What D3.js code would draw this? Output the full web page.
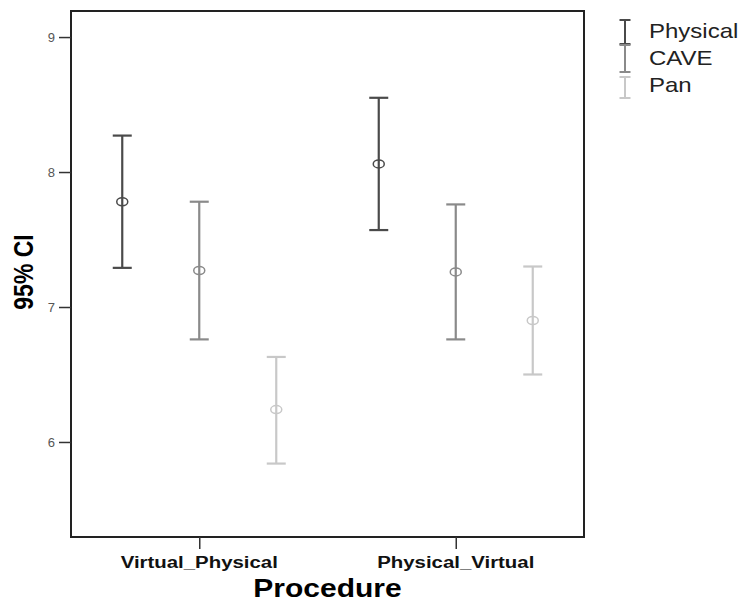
<!DOCTYPE html>
<html>
<head>
<meta charset="utf-8">
<script src="https://cdn.jsdelivr.net/npm/d3@7"></script>
<style>
  body { margin: 0; background: #fff; }
  svg { display: block; font-family: Arial, "Liberation Sans", sans-serif; }
</style>
</head>
<body>
<div id="chart"></div>
<script>
// data
const procedures = ["Virtual_Physical", "Physical_Virtual"];
const series = ["Physical", "CAVE", "Pan"];
const means = [[7.78, 7.27, 6.24], [8.06, 7.26, 6.90]];
const lower = [[7.29, 6.76, 5.84], [7.57, 6.76, 6.50]];
const upper = [[8.27, 7.78, 6.63], [8.55, 7.76, 7.30]];
const yTicks = [6, 7, 8, 9];
const colors = ["#4a4a4a", "#8a8a8a", "#c8c8c8"];

const width = 741, height = 601;
const frame = { left: 71, top: 11, right: 584, bottom: 537 };
const sx = 1.2; // the source picture is stretched sideways

const svg = d3.select("#chart").append("svg")
    .attr("width", width).attr("height", height);

const x = d3.scalePoint().domain(procedures).range([frame.left, frame.right]).padding(0.5);
const xs = d3.scalePoint().domain(series).range([-77, 77]);
const y = d3.scaleLinear().domain([5.296, 9.193]).range([frame.bottom, frame.top]);

// frame
svg.append("rect")
    .attr("x", frame.left).attr("y", frame.top)
    .attr("width", frame.right - frame.left).attr("height", frame.bottom - frame.top)
    .attr("fill", "none").attr("stroke", "#222").attr("stroke-width", 2);

// y axis
const yAxis = svg.append("g")
    .attr("transform", `translate(${frame.left},0)`)
    .call(d3.axisLeft(y).tickValues(yTicks).tickSize(12).tickPadding(4).tickFormat(d3.format("d")));
yAxis.select(".domain").remove();
yAxis.selectAll("line").attr("stroke", "#333").attr("stroke-width", 1.5);
yAxis.selectAll("text")
    .attr("font-size", 13).attr("fill", "#555")
    .attr("font-family", "Arial, 'Liberation Sans', sans-serif");

// x axis
const xAxis = svg.append("g")
    .attr("transform", `translate(0,${frame.bottom})`)
    .call(d3.axisBottom(x).tickSize(12).tickFormat(""));
xAxis.select(".domain").remove();
xAxis.selectAll("line").attr("stroke", "#333").attr("stroke-width", 1.5);

procedures.forEach(p => {
    svg.append("text")
        .attr("transform", `translate(${x(p)},568) scale(${sx},1)`)
        .attr("text-anchor", "middle")
        .attr("font-size", 17).attr("font-weight", "bold").attr("fill", "#111")
        .text(p);
});

// axis titles
svg.append("text")
    .attr("transform", `translate(${(frame.left + frame.right) / 2},597) scale(${sx},1)`)
    .attr("text-anchor", "middle")
    .attr("font-size", 25).attr("font-weight", "bold").attr("fill", "#000")
    .text("Procedure");

svg.append("text")
    .attr("transform", `translate(33,272) rotate(-90) scale(1,${sx})`)
    .attr("text-anchor", "middle")
    .attr("font-size", 23).attr("font-weight", "bold").attr("fill", "#000")
    .text("95% CI");

// error bars
const rows = [];
procedures.forEach((p, i) => series.forEach((s, j) => {
    rows.push({ proc: p, ser: s, mean: means[i][j], lo: lower[i][j], hi: upper[i][j], color: colors[j] });
}));

const bars = svg.append("g").selectAll("g")
    .data(rows)
    .enter().append("g")
    .attr("transform", d => `translate(${x(d.proc) + xs(d.ser)},0)`);

const capHalf = 9.5;
bars.append("line")
    .attr("x1", 0).attr("x2", 0)
    .attr("y1", d => y(d.hi)).attr("y2", d => y(d.lo))
    .attr("stroke", d => d.color).attr("stroke-width", 2.2);
bars.append("line")
    .attr("x1", -capHalf).attr("x2", capHalf)
    .attr("y1", d => y(d.hi)).attr("y2", d => y(d.hi))
    .attr("stroke", d => d.color).attr("stroke-width", 2.2);
bars.append("line")
    .attr("x1", -capHalf).attr("x2", capHalf)
    .attr("y1", d => y(d.lo)).attr("y2", d => y(d.lo))
    .attr("stroke", d => d.color).attr("stroke-width", 2.2);
bars.append("ellipse")
    .attr("cx", 0).attr("cy", d => y(d.mean))
    .attr("rx", 5.5).attr("ry", 4)
    .attr("fill", "none")
    .attr("stroke", d => d.color).attr("stroke-width", 1.5);

// legend
const legendRows = [
    { top: 20, bottom: 44, text: 38 },
    { top: 45, bottom: 72, text: 65 },
    { top: 77, bottom: 98, text: 92 }
];
const legend = svg.append("g").selectAll("g")
    .data(series)
    .enter().append("g");
legend.each(function (s, i) {
    const g = d3.select(this);
    const r = legendRows[i];
    const c = colors[i];
    g.append("line").attr("x1", 625).attr("x2", 625).attr("y1", r.top).attr("y2", r.bottom)
        .attr("stroke", c).attr("stroke-width", 2);
    g.append("line").attr("x1", 619.5).attr("x2", 630.5).attr("y1", r.top).attr("y2", r.top)
        .attr("stroke", c).attr("stroke-width", 2);
    g.append("line").attr("x1", 619.5).attr("x2", 630.5).attr("y1", r.bottom).attr("y2", r.bottom)
        .attr("stroke", c).attr("stroke-width", 2);
    g.append("text")
        .attr("transform", `translate(649,${r.text}) scale(${sx},1)`)
        .attr("font-size", 20).attr("fill", "#222")
        .text(s);
});
</script>
</body>
</html>
